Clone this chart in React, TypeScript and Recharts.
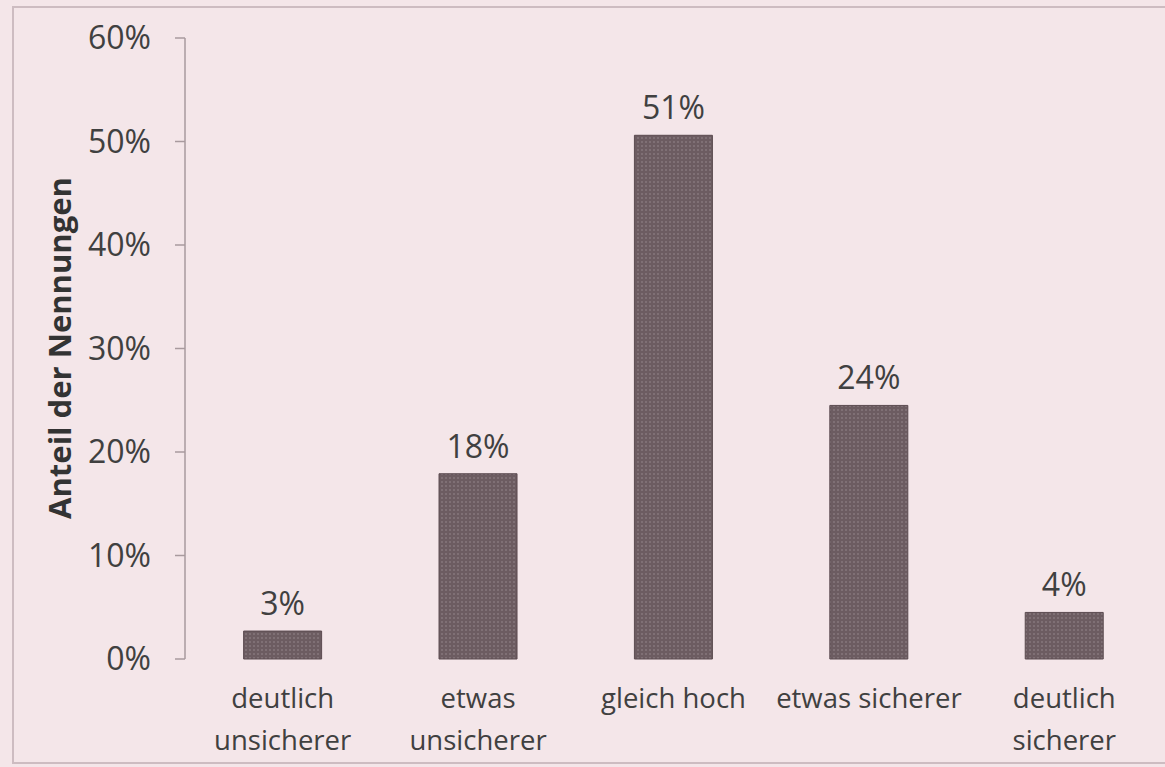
import React from 'react';
import { BarChart, Bar, XAxis, YAxis, LabelList } from 'recharts';

const categories = ['deutlich\nunsicherer', 'etwas\nunsicherer', 'gleich hoch', 'etwas sicherer', 'deutlich\nsicherer'];
const shares = [2.7, 17.9, 50.6, 24.5, 4.5];
const valueLabels = ['3%', '18%', '51%', '24%', '4%'];
const yTicks = [0, 10, 20, 30, 40, 50, 60];
const bandTicks = [0, 1, 2, 3, 4, 5];

const data = categories.map((c, i) => ({ cat: c, value: shares[i], label: valueLabels[i] }));

const FONT = '"Open Sans", sans-serif';
const BG = '#f4e6e9';
const AXIS = '#a89a9e';

const CatTick = (props: any) => {
  const { x, y, payload } = props;
  const lines = String(payload.value).split('\n');
  return (
    <text x={x} y={y} textAnchor="middle" fill="#404040" fontFamily={FONT} fontSize={27.5}>
      {lines.map((l, i) => (
        <tspan key={i} x={x} dy={i === 0 ? 41 : 42}>{l}</tspan>
      ))}
    </text>
  );
};

const YLabel = () => (
  <text
    x={59}
    y={348}
    transform="rotate(-90 59 348)"
    textAnchor="middle"
    dominantBaseline="central"
    fontFamily={FONT}
    fontWeight={700}
    fontSize={31}
    fill="#333333"
  >
    Anteil der Nennungen
  </text>
);

export default function App() {
  return (
    <div style={{ position: 'absolute', left: 0, top: 0, width: 1165, height: 767, background: BG }}>
      <svg width={0} height={0} style={{ position: 'absolute' }}>
        <defs>
          <pattern id="dots" width={4} height={4} patternUnits="userSpaceOnUse">
            <rect width={4} height={4} fill="#6c5c61" />
            <circle cx={2} cy={2} r={0.8} fill="#978a8e" />
          </pattern>
        </defs>
      </svg>
      <div
        style={{
          position: 'absolute',
          left: 12,
          top: 6,
          width: 1165,
          height: 758,
          border: '2px solid #cdbcc1',
          boxSizing: 'border-box',
        }}
      />
      <div style={{ position: 'absolute', left: 0, top: 0 }}>
        <BarChart
          width={1165}
          height={767}
          data={data}
          margin={{ top: 38, right: 3, bottom: 0, left: 0 }}
          barCategoryGap="30%"
        >
          <XAxis
            xAxisId="g"
            type="number"
            domain={[0, 5]}
            ticks={bandTicks}
            height={0}
            tick={() => <g />}
            tickSize={9}
            axisLine={{ stroke: AXIS, strokeWidth: 1.5 }}
            tickLine={{ stroke: AXIS, strokeWidth: 1.5 }}
          />
          <XAxis
            xAxisId="cat"
            dataKey="cat"
            type="category"
            height={108}
            axisLine={false}
            tickLine={false}
            interval={0}
            tick={<CatTick />}
          />
          <YAxis
            width={185}
            domain={[0, 60]}
            ticks={yTicks}
            interval={0}
            tickFormatter={(v: number) => `${v}%`}
            tick={{ fill: '#404040', fontFamily: FONT, fontSize: 32 }}
            tickSize={10}
            tickMargin={24}
            axisLine={{ stroke: AXIS, strokeWidth: 1.5 }}
            tickLine={{ stroke: AXIS, strokeWidth: 1.5 }}
            label={<YLabel />}
          />
          <Bar
            xAxisId="cat"
            dataKey="value"
            fill="url(#dots)"
            stroke="#5b4b50"
            strokeWidth={1}
            isAnimationActive={false}
          >
            <LabelList
              dataKey="label"
              position="top"
              offset={16}
              fill="#404040"
              fontFamily={FONT}
              fontSize={32}
            />
          </Bar>
        </BarChart>
      </div>
    </div>
  );
}
